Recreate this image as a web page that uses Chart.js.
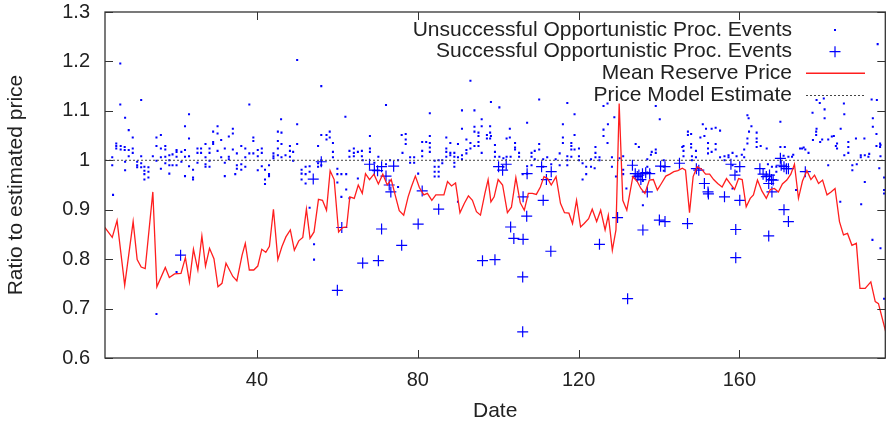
<!DOCTYPE html>
<html>
<head>
<meta charset="utf-8">
<script src="https://cdn.jsdelivr.net/npm/chart.js@4.4.1/dist/chart.umd.min.js"></script>
<style>
  html, body { margin: 0; padding: 0; background: #fff; }
  #wrap { width: 892px; height: 425px; }
</style>
</head>
<body>
<div id="wrap"><canvas id="myChart" width="892" height="425"></canvas></div>
<script>
// ---- data ----
const xTicks = [40, 80, 120, 160];
const yTicks = [0.6, 0.7, 0.8, 0.9, 1.0, 1.1, 1.2, 1.3];
const modelEstimate = 1.0;

const seriesLabels = [
  'Unsuccessful Opportunistic Proc. Events',
  'Successful Opportunistic Proc. Events',
  'Mean Reserve Price',
  'Price Model Estimate'
];

// mean reserve price (red line)
const reserveDays = [2.1,4,5.2,7.1,9.2,10.2,11.2,12.2,14.1,15.1,17.2,18.2,19.5,21.1,22.2,23.2,24.2,25.3,26.3,27.2,28.2,29.3,30.3,31.3,32.3,34,35,36.3,37.1,38.1,39.2,40.2,41.2,42.2,43.1,44.1,45.2,46.2,47.2,48.3,49.3,50.4,51.4,52.3,53.2,54.2,55.3,56.3,57.3,58.2,59.2,60.3,61.3,62.3,63.1,64.2,65.2,66.2,67,68,69.1,70.2,71.3,72.4,73.4,74.5,75.4,76.5,77.6,78.4,79.4,80.4,81.5,82.4,83.5,84.5,85.5,86.5,87.4,88.4,89.4,90.5,91.6,92.6,93.6,94.6,95.6,96.7,97.5,98.2,99,100,101.1,102.3,103.3,104.4,105.5,106.5,107.5,108.5,109.5,110.5,111.4,112.3,113.2,114.4,115.5,116.5,117.6,118.5,119.5,120.5,121.4,122.5,123.4,124.5,125.5,126.6,127.4,128.4,129.3,130.1,131,132,133.5,134.6,135.5,136.5,137.6,138.6,139.6,140.6,141.7,142.7,143.7,144.7,145.8,146.6,147.6,148.5,149.5,150.6,151.6,152.6,153.6,154.6,155.7,156.8,157.8,158.8,159.8,160.7,161.7,162.7,163.5,164.5,165.6,166.7,167.7,168.7,169.7,170.7,171.8,172.8,173.7,174.7,175.7,176.8,177.8,178.7,179.7,180.7,181.8,182.8,183.8,184.9,185.9,186.9,188,189.1,190,191.3,192.7,193.8,194.6,196.5];
const reserveValues = [0.865,0.844,0.878,0.747,0.876,0.799,0.784,0.781,0.936,0.744,0.783,0.763,0.770,0.771,0.803,0.754,0.820,0.778,0.847,0.786,0.822,0.801,0.744,0.751,0.792,0.765,0.756,0.808,0.832,0.778,0.778,0.786,0.820,0.814,0.826,0.901,0.799,0.825,0.845,0.859,0.818,0.837,0.844,0.901,0.842,0.855,0.921,0.919,0.899,0.979,0.961,0.855,0.864,0.865,0.926,0.923,0.950,0.933,0.973,0.961,0.972,0.952,0.972,0.950,0.961,0.926,0.898,0.889,0.926,0.946,0.968,0.945,0.930,0.933,0.919,0.930,0.930,0.930,0.957,0.948,0.954,0.894,0.913,0.928,0.919,0.896,0.889,0.933,0.961,0.916,0.926,0.961,0.950,0.894,0.905,0.965,0.914,0.899,0.933,0.933,0.931,0.946,0.967,0.963,0.950,0.967,0.913,0.894,0.893,0.872,0.919,0.865,0.872,0.882,0.901,0.876,0.899,0.859,0.889,0.818,0.859,1.115,0.919,0.899,0.967,0.957,0.943,0.933,0.960,0.961,0.940,0.953,0.968,0.972,0.977,0.979,0.984,0.980,0.894,0.967,0.987,0.982,0.972,0.972,0.961,0.953,0.946,0.963,0.952,0.941,0.963,0.961,0.906,0.923,0.930,0.960,0.938,0.923,0.941,0.943,0.936,0.952,0.960,0.972,0.992,0.923,0.958,0.979,0.961,0.970,0.953,0.960,0.930,0.936,0.943,0.876,0.849,0.852,0.828,0.832,0.741,0.741,0.754,0.714,0.710,0.650];

// successful events [day, ratio]
const successEvents = [
  [21.0,0.808],[54.0,0.962],[56.0,0.997],[60.0,0.737],[61.1,0.864],[66.3,0.792],[68.0,0.992],[69.2,0.980],[70.0,0.979],
  [71.0,0.987],[72.1,0.968],[72.9,0.950],[73.3,0.936],[74.0,0.988],[70.2,0.797],[71.0,0.861],[76.0,0.828],[80.1,0.871],
  [81.1,0.938],[85.2,0.901],[96.1,0.797],[99.2,0.799],[100.1,0.987],[101.1,0.980],[102.0,0.992],[106.2,0.926],[107.2,0.973],
  [107.1,0.887],[110.8,0.987],[111.2,0.919],[112.0,0.961],[113.2,0.977],[103.1,0.865],[103.9,0.842],[106.2,0.840],
  [106.1,0.764],[106.1,0.653],[113.1,0.816],[125.2,0.830],[129.7,0.884],[132.2,0.720],[133.4,0.990],[134.1,0.973],
  [135.0,0.970],[135.9,0.973],[136.7,0.975],[137.7,0.973],[134.6,0.967],[135.5,0.961],[136.0,0.859],[137.1,0.936],
  [140.4,0.988],[141.5,0.987],[140.1,0.879],[141.5,0.876],[145.1,0.994],[147.1,0.872],[149.3,0.983],[149.9,0.980],
  [151.3,0.953],[152.2,0.936],[152.3,0.932],[156.3,0.926],[157.9,0.992],[158.9,0.970],[160.1,0.987],[160.1,0.919],
  [159.1,0.860],[159.1,0.803],[165.1,0.983],[165.9,0.972],[166.7,0.967],[167.5,0.970],[168.0,0.961],[168.4,0.960],
  [167.3,0.953],[168.1,0.936],[170.2,1.004],[170.4,0.990],[171.1,0.987],[171.7,0.983],[172.2,0.983],[171.1,0.900],
  [172.2,0.876],[167.3,0.847],[176.4,0.977]
];

// unsuccessful events [day, ratio]
const failedEvents = [
  [6.0,1.196],[6.0,1.113],[7.2,1.086],[11.2,1.122],[8.1,1.061],[9.1,1.046],[5.0,1.034],[5.0,1.029],[5.0,1.024],[6.1,1.029],
  [6.1,1.022],[7.1,1.027],[7.1,1.021],[8.1,1.021],[8.1,1.008],[9.1,1.024],[9.1,1.015],[4.0,1.006],[4.0,0.990],[7.2,0.997],
  [7.2,0.980],[10.2,0.997],[10.2,0.990],[10.2,0.986],[11.2,1.008],[11.2,0.994],[11.2,0.986],[12.0,0.987],[12.0,0.979],
  [12.0,0.972],[12.0,0.961],[13.0,0.986],[13.0,0.977],[13.0,0.965],[4.2,0.930],[14.1,1.008],[15.0,1.046],[15.0,1.029],
  [15.0,0.999],[15.0,0.689],[16.1,1.051],[16.1,1.024],[16.1,1.006],[16.1,0.983],[17.2,1.029],[17.2,1.007],[17.2,0.994],
  [17.2,1.022],[18.2,1.010],[18.2,1.000],[18.2,0.990],[18.2,0.973],[19.0,1.012],[19.0,0.990],[20.0,1.021],[20.0,1.017],
  [20.0,1.007],[20.0,0.990],[20.0,0.774],[21.2,1.017],[21.2,0.997],[22.1,1.069],[22.1,1.021],[22.1,1.007],[22.1,0.968],
  [23.1,1.093],[23.1,1.044],[23.1,1.008],[23.1,0.988],[24.1,0.981],[24.1,0.965],[24.1,0.961],[25.2,1.024],[25.2,1.015],
  [25.2,0.995],[26.1,1.024],[26.1,1.015],[27.2,1.033],[27.2,1.006],[27.2,0.992],[27.2,0.987],[28.2,1.024],[28.2,1.015],
  [28.2,0.999],[28.2,0.987],[29.1,1.058],[29.1,1.037],[29.1,1.033],[30.2,1.069],[30.2,1.054],[30.2,1.019],[31.1,1.041],
  [31.1,1.006],[32.0,1.024],[32.0,0.995],[32.0,0.968],[33.0,1.048],[33.0,1.007],[33.0,1.002],[34.0,1.064],[34.0,1.054],
  [34.0,1.022],
  [34.6,0.972],[35.0,1.014],[35.0,0.990],[35.0,0.983],[36.1,1.029],[36.1,0.992],[36.1,0.981],[37.1,1.024],[37.1,1.006],
  [37.1,0.987],[38.1,1.113],[38.1,1.014],[39.1,1.046],[39.1,1.039],[39.1,1.014],[40.2,1.021],[40.2,1.008],[40.2,0.980],
  [41.2,1.024],[41.2,1.015],[41.2,0.988],[42.0,0.981],[42.0,0.961],[42.0,0.952],[43.0,0.990],[43.0,0.972],[43.0,0.968],
  [44.1,1.014],[44.1,1.008],[44.1,1.004],[45.2,1.058],[45.2,1.039],[45.2,1.024],[45.2,1.010],[46.1,1.056],[46.1,1.033],
  [46.1,1.006],[46.0,1.083],[47.1,1.010],[48.2,1.029],[48.2,1.019],[48.2,1.007],[49.0,1.017],[49.0,0.999],[50.0,1.203],
  [50.0,1.073],[50.0,1.033],[51.1,0.981],[51.1,0.973],[51.1,0.961],[52.1,0.987],[52.1,0.972],[52.1,0.953],[53.1,0.988],
  [53.1,0.977],[53.1,0.904],[54.2,0.830],[54.2,0.799],[55.2,1.029],[55.2,0.994],[55.2,0.987],[56.0,1.150],[56.0,1.051],
  [56.0,1.000],[56.0,0.990],[57.3,1.051],[57.3,1.042],[58.1,1.058],[58.1,1.046],[58.9,1.035],[58.9,1.017],[58.9,1.006],
  [60.0,0.983],[60.0,0.972],[60.0,0.955],[61.0,0.972],[61.0,0.926],[62.0,1.088],[62.2,0.972],[62.2,0.941],[63.0,1.019],
  [63.0,1.007],[63.0,0.923],[64.1,1.024],[64.1,1.015],[64.1,1.008],[65.1,1.017],[65.1,0.963],[66.1,1.019],[66.1,1.008],
  [66.3,1.000],[68.1,1.024],[68.1,1.017],[68.1,1.049],[69.2,0.995],[70.2,1.007],[72.1,1.112],[72.1,0.992],[73.1,1.000],
  [75.1,1.000],[75.1,0.946],[76.0,1.051],[76.2,1.015],[77.0,1.053],[77.0,1.042],[77.0,1.033],[78.1,1.006],[78.1,0.995],
  [79.1,1.006],[79.1,0.995],[80.1,0.973],[81.1,1.037],[81.1,1.019],[81.1,1.008],[82.1,1.037],[83.0,1.095],[83.0,1.049],
  [83.0,1.035],[83.0,1.026],[83.0,1.017],[84.2,0.999],[84.2,0.987],[84.2,0.977],[84.2,0.967],[85.2,1.000],[85.2,0.987],
  [85.2,0.977],[85.2,0.967],[86.1,1.000],[86.1,0.994],[87.1,1.046],[87.1,1.024],[87.1,1.017],[87.1,1.007],[88.1,1.035],
  [88.1,1.015],[88.1,1.010],[89.1,1.015],[89.1,1.007],[89.1,0.995],[89.1,0.987],[90.0,1.033],[90.0,1.006],[90.0,0.916],
  [91.0,1.101],[91.0,1.064],[91.0,1.010],[91.0,1.002],[92.1,1.042],[92.1,1.021],[92.1,1.014],[93.1,1.161],[93.1,1.035],
  [93.1,1.024],[94.1,1.101],[94.1,1.068],[94.1,1.058],[94.1,1.029],[95.1,1.056],[95.1,1.049],[95.1,1.037],[95.1,1.029],
  [95.9,1.083],[95.9,1.069],[95.9,1.015],[97.2,1.051],[97.2,1.044],[98.2,1.118],[98.2,1.049],
  [98.0,1.069],[98.0,1.056],[98.0,1.044],[99.2,1.031],[99.2,1.017],[99.2,1.007],[100.3,1.107],[100.3,1.007],[101.3,1.004],
  [101.3,0.987],[102.1,1.044],[102.1,1.007],[102.9,1.064],[102.9,1.046],[103.1,1.007],[104.2,1.035],[104.2,1.026],
  [104.2,1.022],[105.2,1.015],[105.2,1.007],[106.1,0.972],[107.2,1.076],[107.2,0.988],[107.2,0.973],[108.3,1.015],
  [108.3,1.007],[108.3,0.990],[109.1,1.019],[109.1,1.002],[110.2,1.123],[110.2,1.033],[110.2,1.022],[111.2,1.002],
  [111.2,0.987],[112.2,1.006],[113.2,0.992],[114.3,1.002],[115.3,1.014],[115.3,0.990],[116.1,1.073],[116.1,1.046],
  [116.1,1.035],[117.2,1.116],[117.2,1.008],[117.2,1.000],[117.2,0.990],[118.2,1.035],[118.2,1.029],[118.2,1.022],
  [118.2,1.007],[119.0,1.093],[119.0,1.051],[119.0,1.022],[120.1,1.024],[120.1,1.008],[120.1,1.000],[121.0,0.994],
  [121.0,0.961],[121.9,0.987],[121.9,0.972],[123.1,1.002],[123.1,0.987],[124.2,1.027],[124.2,1.015],[124.2,1.006],
  [124.0,0.984],[125.2,1.006],[125.2,1.000],[126.2,1.110],[126.2,1.062],[126.2,1.049],[127.2,1.115],[127.2,1.035],
  [127.3,1.073],[128.3,1.006],[128.3,0.987],[128.9,1.087],[129.3,0.967],[130.2,1.004],
  [131.1,1.008],[131.1,0.981],[131.1,0.972],[131.9,0.943],[134.2,1.033],[135.0,1.027],[136.0,0.909],[136.0,0.958],
  [137.1,1.002],[137.1,0.987],[137.1,0.975],[138.0,1.011],[138.2,1.017],[139.2,1.022],[139.2,1.015],[139.2,1.110],
  [140.2,1.083],[141.2,1.000],[141.2,0.987],[141.2,0.979],[145.8,1.027],[146.1,1.029],[146.1,1.019],[146.1,1.008],
  [147.2,1.058],[147.2,1.051],[148.0,1.053],[148.0,1.033],[148.0,1.026],[148.2,1.008],[148.2,1.000],[149.2,1.019],
  [149.2,1.006],[149.2,0.981],[150.3,1.046],[150.9,1.073],[151.3,1.049],[151.7,1.064],[152.2,1.035],[152.2,1.024],
  [152.2,1.014],[153.1,1.064],[153.1,1.017],[154.1,1.066],[154.1,1.033],[154.1,1.022],[155.2,1.060],[155.2,1.006],
  [156.3,1.008],[156.3,1.000],[157.3,1.010],[157.3,1.006],[158.3,1.015],[158.3,0.990],[158.3,0.943],[159.3,1.008],
  [159.3,0.977],[160.6,1.011],[161.2,1.022],[161.2,1.006],[162.0,1.091],[162.0,1.044],[162.0,1.034],[162.3,1.085],
  [162.4,1.058],[163.0,1.069],[164.3,1.056],[164.3,1.044],[164.3,1.037],[164.3,1.027],[165.3,1.029],[166.8,1.024],
  [167.1,0.992],[168.1,0.987],[169.2,0.987],[169.2,0.977],[170.2,1.078],[170.2,1.027],[171.0,1.009],[171.3,1.027],
  [172.2,1.007],[173.1,1.007],[173.4,1.011],[174.1,0.940],[175.1,1.024],[175.6,1.024],[176.0,1.026],[176.4,1.022],
  [177.2,1.015],[178.2,1.096],[178.3,1.041],[179.1,1.058],[179.1,1.051],[179.2,1.122],[179.2,1.064],[180.0,1.116],
  [180.1,1.037],[180.6,1.042],[181.0,1.125],[181.2,1.103],[181.2,1.085],[182.1,1.042],[182.1,0.990],[183.0,1.048],
  [183.5,1.049],[184.0,1.029],[184.3,1.034],[184.3,1.024],[185.1,0.916],[185.2,1.064],[186.0,1.115],[186.1,1.093],
  [186.1,1.010],[187.1,1.037],[187.1,1.027],[187.1,1.015],[188.1,0.990],[188.1,0.980],[189.0,1.044],[189.2,0.992],
  [190.2,1.010],[190.2,1.006],[190.3,0.911],[191.1,1.044],[191.2,1.010],[191.2,0.956],[192.1,1.007],[192.3,1.013],
  [192.9,1.123],[193.1,0.839],[193.2,1.085],[193.2,1.068],[194.1,1.053],[194.1,1.029],[194.2,1.122],[194.4,1.235],
  [194.8,0.984],[195.0,1.034],[195.0,1.027],[195.1,1.031],[195.1,1.008],[195.1,0.822],[196.0,0.965],[196.0,0.940],
  [196.0,0.933],[196.0,0.720]
];

const xMin = 2.2, xMax = 196.3;
const FONT = '"Liberation Sans", Arial, Helvetica, sans-serif';
const BLUE = '#0000ff';
const RED = 'rgb(255, 30, 30)';
const TEXT = '#222';

// frame with inward ticks + key in the upper right, gnuplot style
const framePlugin = {
  id: 'frame',
  afterDraw(chart) {
    const { ctx, chartArea: a, scales: { x, y } } = chart;
    ctx.save();
    ctx.strokeStyle = '#333';
    ctx.lineWidth = 1.3;
    ctx.strokeRect(a.left, a.top, a.right - a.left, a.bottom - a.top);
    ctx.beginPath();
    xTicks.forEach(v => {
      const px = Math.round(x.getPixelForValue(v)) + 0.5;
      ctx.moveTo(px, a.bottom); ctx.lineTo(px, a.bottom - 8);
      ctx.moveTo(px, a.top); ctx.lineTo(px, a.top + 8);
    });
    yTicks.forEach(v => {
      const py = Math.round(y.getPixelForValue(v)) + 0.5;
      ctx.moveTo(a.left, py); ctx.lineTo(a.left + 8, py);
      ctx.moveTo(a.right, py); ctx.lineTo(a.right - 8, py);
    });
    ctx.lineWidth = 1;
    ctx.stroke();

    // key
    const textRight = 792, sx0 = 806, sx1 = 865, sxc = 835;
    const rows = [30, 51.7, 73.3, 95];
    ctx.font = '21px ' + FONT;
    ctx.fillStyle = TEXT;
    ctx.textAlign = 'right';
    ctx.textBaseline = 'middle';
    seriesLabels.forEach((t, i) => ctx.fillText(t, textRight, rows[i]));
    ctx.fillStyle = BLUE;
    ctx.fillRect(sxc - 1, rows[0] - 1, 2, 2);
    ctx.strokeStyle = BLUE;
    ctx.lineWidth = 1.2;
    ctx.beginPath();
    ctx.moveTo(sxc - 5.5, rows[1]); ctx.lineTo(sxc + 5.5, rows[1]);
    ctx.moveTo(sxc, rows[1] - 5.5); ctx.lineTo(sxc, rows[1] + 5.5);
    ctx.stroke();
    ctx.strokeStyle = RED;
    ctx.lineWidth = 1.6;
    ctx.beginPath(); ctx.moveTo(sx0, rows[2]); ctx.lineTo(sx1, rows[2]); ctx.stroke();
    ctx.strokeStyle = '#444';
    ctx.lineWidth = 1;
    ctx.setLineDash([2, 2]);
    ctx.beginPath(); ctx.moveTo(sx0, rows[3] + 0.5); ctx.lineTo(sx1, rows[3] + 0.5); ctx.stroke();
    ctx.restore();
  }
};

new Chart(document.getElementById('myChart').getContext('2d'), {
  type: 'scatter',
  data: {
    datasets: [
      {
        label: seriesLabels[0],
        data: failedEvents.map(p => ({ x: p[0], y: p[1] })),
        pointStyle: 'rect',
        pointRadius: 1.45,
        borderWidth: 0,
        backgroundColor: BLUE,
        order: 4
      },
      {
        label: seriesLabels[1],
        data: successEvents.map(p => ({ x: p[0], y: p[1] })),
        pointStyle: 'cross',
        pointRadius: 5.5,
        borderWidth: 1.2,
        borderColor: BLUE,
        order: 3
      },
      {
        label: seriesLabels[2],
        type: 'line',
        data: reserveDays.map((d, i) => ({ x: d, y: reserveValues[i] })),
        borderColor: RED,
        borderWidth: 1.3,
        pointRadius: 0,
        tension: 0,
        fill: false,
        order: 2
      },
      {
        label: seriesLabels[3],
        type: 'line',
        data: [{ x: xMin, y: modelEstimate }, { x: xMax, y: modelEstimate }],
        borderColor: '#444',
        borderWidth: 1,
        borderDash: [2, 2],
        pointRadius: 0,
        fill: false,
        order: 1
      }
    ]
  },
  plugins: [framePlugin],
  options: {
    responsive: false,
    animation: false,
    devicePixelRatio: 1,
    layout: { padding: { left: 0, right: 1, top: 0, bottom: 0 } },
    plugins: {
      legend: { display: false },
      tooltip: { enabled: false }
    },
    scales: {
      x: {
        type: 'linear',
        min: xMin,
        max: xMax,
        afterBuildTicks: s => { s.ticks = xTicks.map(v => ({ value: v })); },
        afterFit: s => { s.height = 67; },
        grid: { display: false, drawTicks: false },
        border: { display: false },
        ticks: { color: TEXT, font: { family: FONT, size: 20 }, padding: 10, maxRotation: 0 },
        title: { display: true, text: 'Date', color: TEXT, font: { family: FONT, size: 21 }, padding: { top: 0, bottom: 1 } }
      },
      y: {
        min: 0.6,
        max: 1.3,
        afterBuildTicks: s => { s.ticks = yTicks.map(v => ({ value: v })); },
        afterFit: s => { s.width = 105; s.paddingTop = 12; s.paddingBottom = 12; },
        grid: { display: false, drawTicks: false },
        border: { display: false },
        ticks: {
          color: TEXT,
          font: { family: FONT, size: 20 },
          padding: 15,
          callback: v => String(+Number(v).toFixed(1))
        },
        title: { display: true, text: 'Ratio to estimated price', color: TEXT, font: { family: FONT, size: 21 }, padding: { top: 4, bottom: 0 } }
      }
    }
  }
});
</script>
</body>
</html>
